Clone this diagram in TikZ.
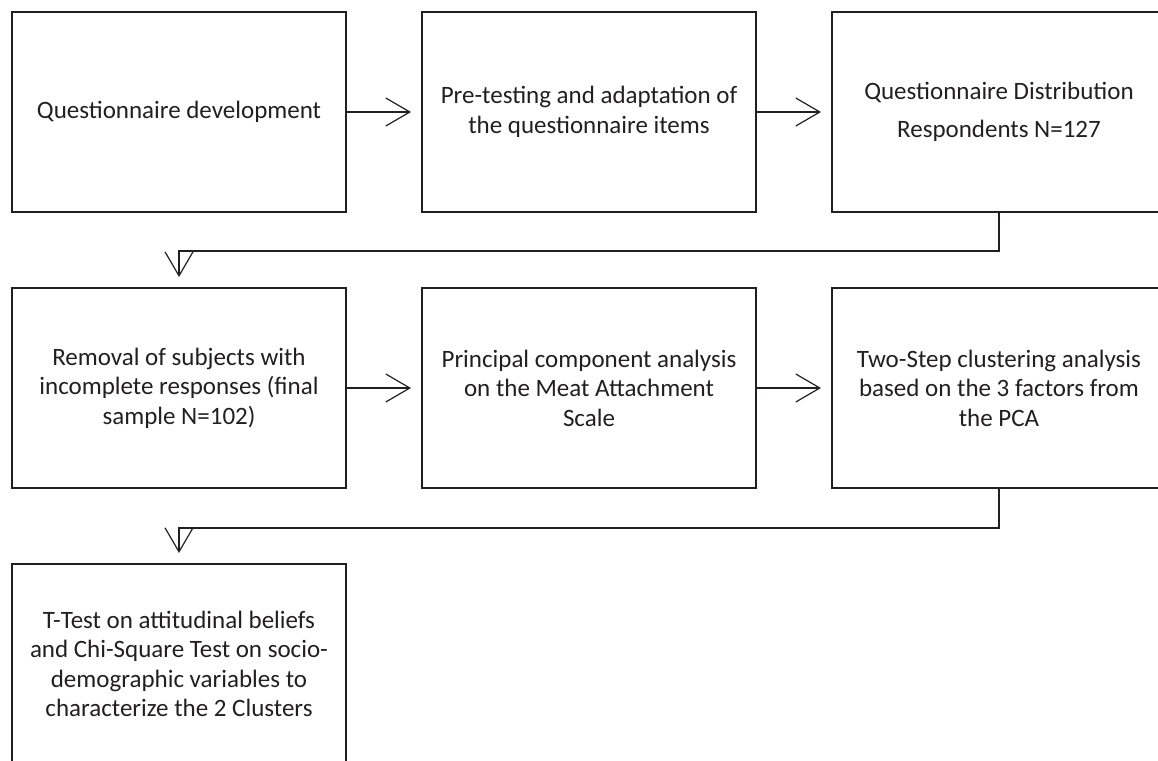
\documentclass[tikz,border=0pt]{standalone}
\usepackage{fontspec}
\setmainfont{Carlito}
\usetikzlibrary{arrows.meta}
\definecolor{ink}{HTML}{231F20}
\tikzset{
  stepbox/.style={draw=ink, line width=2bp, minimum width=334bp, minimum height=200bp,
    inner sep=0pt, align=center, text=ink,
    font=\fontsize{25bp}{29.5bp}\selectfont},
  arr/.style={draw=ink, line width=1.2bp, -{Straight Barb[length=24bp,width=28bp,line width=1.2bp]}, shorten >=10bp},
}
\begin{document}
\begin{tikzpicture}[x=1bp,y=-1bp]
\useasboundingbox (0,0) rectangle (1158,761);
\node[stepbox] (b1) at (179,112) {Questionnaire development};
\node[stepbox] (b2) at (589,112) {Pre-testing and adaptation of\\the questionnaire items};
\node[stepbox] (b3) at (999,112) {Questionnaire Distribution\\[8bp]Respondents N=127};
\node[stepbox] (b4) at (179,388) {Removal of subjects with\\incomplete responses (final\\sample N=102)};
\node[stepbox] (b5) at (589,388) {Principal component analysis\\on the Meat Attachment\\Scale};
\node[stepbox] (b6) at (999,388) {Two-Step clustering analysis\\based on the 3 factors from\\the PCA};
\node[stepbox] (b7) at (179,664) {T-Test on attitudinal beliefs\\and Chi-Square Test on socio-\\demographic variables to\\characterize the 2 Clusters};
\draw[arr] (b1.east) -- (b2.west);
\draw[arr] (b2.east) -- (b3.west);
\draw[arr] (b4.east) -- (b5.west);
\draw[arr] (b5.east) -- (b6.west);
\draw[arr] (b3.south) -- ++(0,38) -| (b4.north);
\draw[arr] (b6.south) -- ++(0,39) -| (b7.north);
\end{tikzpicture}
\end{document}
